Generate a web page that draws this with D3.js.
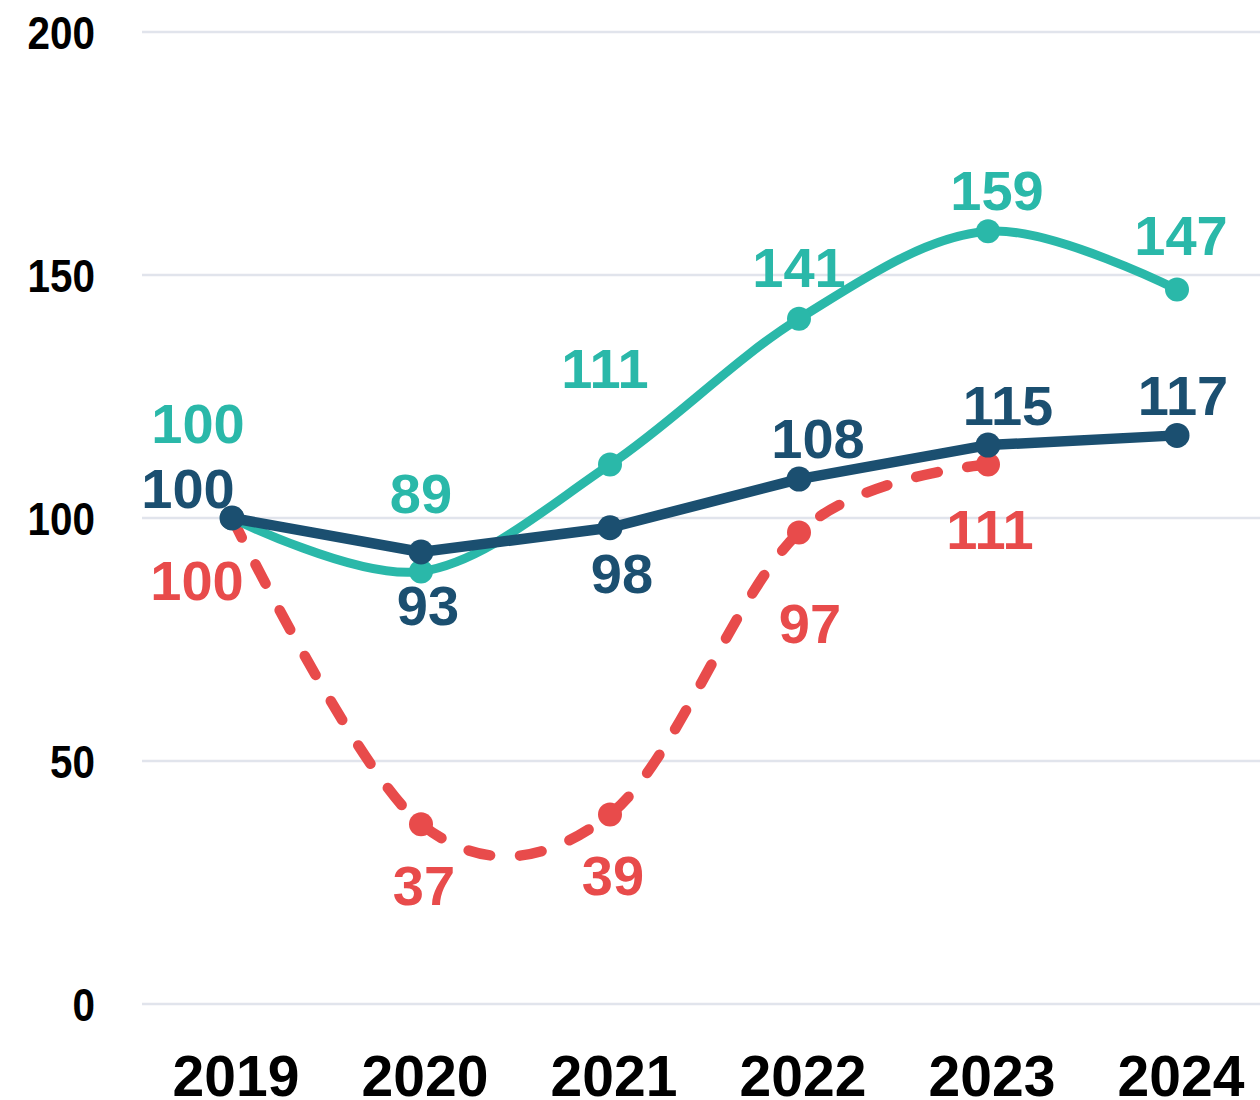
<!DOCTYPE html>
<html>
<head>
<meta charset="utf-8">
<script src="https://cdn.jsdelivr.net/npm/d3@7"></script>
<style>
  body { margin: 0; background: #fff; }
  .tick-y { font-family: "Liberation Sans", Arial, sans-serif; font-weight: bold; font-size: 47px; fill: #000; }
  .tick-x { font-family: "Liberation Sans", Arial, sans-serif; font-weight: bold; font-size: 57px; fill: #000; }
  .val { font-family: "Liberation Sans", Arial, sans-serif; font-weight: bold; font-size: 56px; }
</style>
</head>
<body>
<svg width="1260" height="1100"></svg>
<script>
const years = ["2019", "2020", "2021", "2022", "2023", "2024"];
const tealValues = [100, 89, 111, 141, 159, 147];
const navyValues = [100, 93, 98, 108, 115, 117];
const redValues = [100, 37, 39, 97, 111];
const yTicks = [0, 50, 100, 150, 200];

// label offsets (px) from each point
const tealLabelOffset = [[-34, -75], [0, -58], [-5, -77], [0, -32], [9, -21], [4, -35]];
const navyLabelOffset = [[-44, -10], [7, 73], [12, 65], [19, -21], [20, -20], [6, -20]];
const redLabelOffset = [[-35, 82], [3, 81], [3, 81], [11, 110], [2, 84]];

const svg = d3.select("svg");

const x = d3.scalePoint().domain(years).range([232, 1177]);
const y = d3.scaleLinear().domain([0, 200]).range([1004, 32]);

// grid
svg.append("g").selectAll("line")
  .data(yTicks)
  .join("line")
  .attr("x1", 142).attr("x2", 1260)
  .attr("y1", d => y(d)).attr("y2", d => y(d))
  .attr("stroke", "#e1e4ec")
  .attr("stroke-width", 2.5);

// condensed look for the y ticks
svg.append("g").selectAll("text")
  .data(yTicks)
  .join("text")
  .attr("class", "tick-y")
  .attr("transform", d => `translate(95,${y(d)}) scale(0.86,1)`)
  .attr("dy", "0.36em")
  .attr("text-anchor", "end")
  .text(d => d);

svg.append("g").selectAll("text")
  .data(years)
  .join("text")
  .attr("class", "tick-x")
  .attr("x", d => x(d) + 4)
  .attr("y", 1096)
  .attr("text-anchor", "middle")
  .text(d => d);

const curved = d3.line()
  .x((d, i) => x(years[i]))
  .y(d => y(d))
  .curve(d3.curveCardinal.tension(0));

const straight = d3.line()
  .x((d, i) => x(years[i]))
  .y(d => y(d));

function drawSeries(values, color, lineGen, width, r, dash) {
  const g = svg.append("g");
  g.append("path")
    .attr("d", lineGen(values))
    .attr("fill", "none")
    .attr("stroke", color)
    .attr("stroke-width", width)
    .attr("stroke-linecap", "round")
    .attr("stroke-linejoin", "round")
    .attr("stroke-dasharray", dash);
  g.selectAll("circle")
    .data(values)
    .join("circle")
    .attr("cx", (d, i) => x(years[i]))
    .attr("cy", d => y(d))
    .attr("r", r)
    .attr("fill", color);
}

function drawLabels(values, color, offsets) {
  svg.append("g").selectAll("text")
    .data(values)
    .join("text")
    .attr("class", "val")
    .attr("x", (d, i) => x(years[i]) + offsets[i][0])
    .attr("y", (d, i) => y(d) + offsets[i][1])
    .attr("text-anchor", "middle")
    .attr("fill", color)
    .text(d => d);
}

const red = "#e84b4b", teal = "#2ab8a9", navy = "#1b4f70";

drawSeries(redValues, red, curved, 10.5, 12, "22 30");
drawSeries(tealValues, teal, curved, 9, 12, null);
drawSeries(navyValues, navy, straight, 10.5, 12.5, null);

drawLabels(redValues, red, redLabelOffset);
drawLabels(tealValues, teal, tealLabelOffset);
drawLabels(navyValues, navy, navyLabelOffset);
</script>
</body>
</html>
